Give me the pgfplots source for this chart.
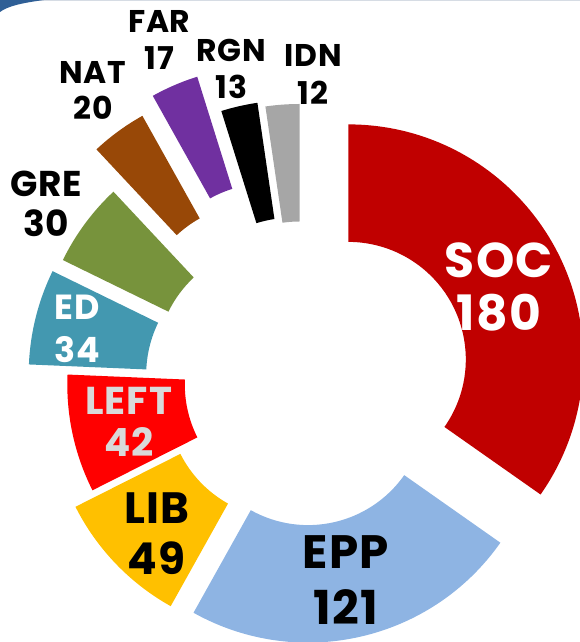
\documentclass[border=0pt]{standalone}
\usepackage{pgfplots}
\pgfplotsset{compat=1.18}
\usepackage{fontspec}
\setmainfont{Poppins}[LetterSpace=2.5]
\definecolor{cSOC}{HTML}{C00000}
\definecolor{cEPP}{HTML}{8EB4E3}
\definecolor{cLIB}{HTML}{FFC000}
\definecolor{cLEFT}{HTML}{FF0000}
\definecolor{cED}{HTML}{4398B0}
\definecolor{cGRE}{HTML}{77933C}
\definecolor{cNAT}{HTML}{984807}
\definecolor{cFAR}{HTML}{7030A0}
\definecolor{cRGN}{HTML}{000000}
\definecolor{cIDN}{HTML}{A6A6A6}
\definecolor{lgray}{HTML}{D9D9D9}
\definecolor{topline}{HTML}{D6DCE4}
\definecolor{corner}{HTML}{2F5F96}
% seats: SOC 180, EPP 121, LIB 49, LEFT 42, ED 34, GRE 30, NAT 20, FAR 17, RGN 13, IDN 12 (total 518)
% \slice{cumulative start}{value}{centre x}{centre y}{colour}
\newcommand{\slice}[5]{%
  \fill[#5] (axis cs:#3,#4) ++({90-#1/518*360}:235bp)
    arc[start angle={90-#1/518*360}, end angle={90-(#1+#2)/518*360}, radius=235bp]
    -- ++({270-(#1+#2)/518*360}:117.5bp)
    arc[start angle={90-(#1+#2)/518*360}, end angle={90-#1/518*360}, radius=117.5bp]
    -- cycle;}
\newcommand{\lab}[5]{% x, y, size, colour, text
  \node[anchor=base, text=#4, font=\fontsize{#3}{#3}\selectfont\bfseries, inner sep=0pt] at (axis cs:#1,#2) {#5};}
\begin{document}
\begin{tikzpicture}
\useasboundingbox (0,0) rectangle (580bp,642bp);
\clip (0,0) rectangle (580bp,642bp);
\begin{axis}[at={(0,0)}, anchor=south west, scale only axis, width=580bp, height=642bp,
  xmin=0, xmax=580, ymin=0, ymax=642, hide axis, clip=false]
\slice{0}{180}{348.3}{282.6}{cSOC}
\slice{180}{121}{308.1}{234.4}{cEPP}
\slice{301}{49}{285.3}{241}{cLIB}
\slice{350}{42}{302.3}{257.5}{cLEFT}
\slice{392}{34}{263.7}{267.6}{cED}
\slice{426}{30}{274}{278.7}{cGRE}
\slice{456}{20}{257}{321}{cNAT}
\slice{476}{17}{267.4}{341}{cFAR}
\slice{493}{13}{291.5}{306.7}{cRGN}
\slice{506}{12}{299.5}{303}{cIDN}
% labels
\lab{499}{364.7}{49}{white}{SOC}
\lab{499}{311}{49}{white}{180}
\lab{346}{73.7}{47}{black}{EPP}
\lab{346}{18}{47}{black}{121}
\lab{156.7}{118}{44}{black}{LIB}
\lab{156.7}{67}{44}{black}{49}
\lab{128.8}{227.7}{39}{lgray}{LEFT}
\lab{128.8}{185.3}{39}{lgray}{42}
\lab{77}{322.7}{35}{white}{ED}
\lab{77}{279}{35}{white}{34}
\lab{46}{445.3}{36}{black}{GRE}
\lab{46}{405}{36}{black}{30}
\lab{93}{558}{31.5}{black}{NAT}
\lab{93}{522}{31.5}{black}{20}
\lab{159.3}{609.7}{31.5}{black}{FAR}
\lab{159.3}{572.7}{31.5}{black}{17}
\lab{231.3}{580.3}{31.5}{black}{RGN}
\lab{231.3}{543.7}{31.5}{black}{13}
\lab{313}{575.3}{31.5}{black}{IDN}
\lab{313}{537}{31.5}{black}{12}
% slide decoration
\draw[topline, line width=1.5bp] (axis cs:30,641.3) -- (axis cs:580,641.3);
\fill[corner] (axis cs:0,642) -- (axis cs:44,642) .. controls (axis cs:22,639) and (axis cs:8,636) .. (axis cs:0,630) -- cycle;
\end{axis}
\end{tikzpicture}
\end{document}
